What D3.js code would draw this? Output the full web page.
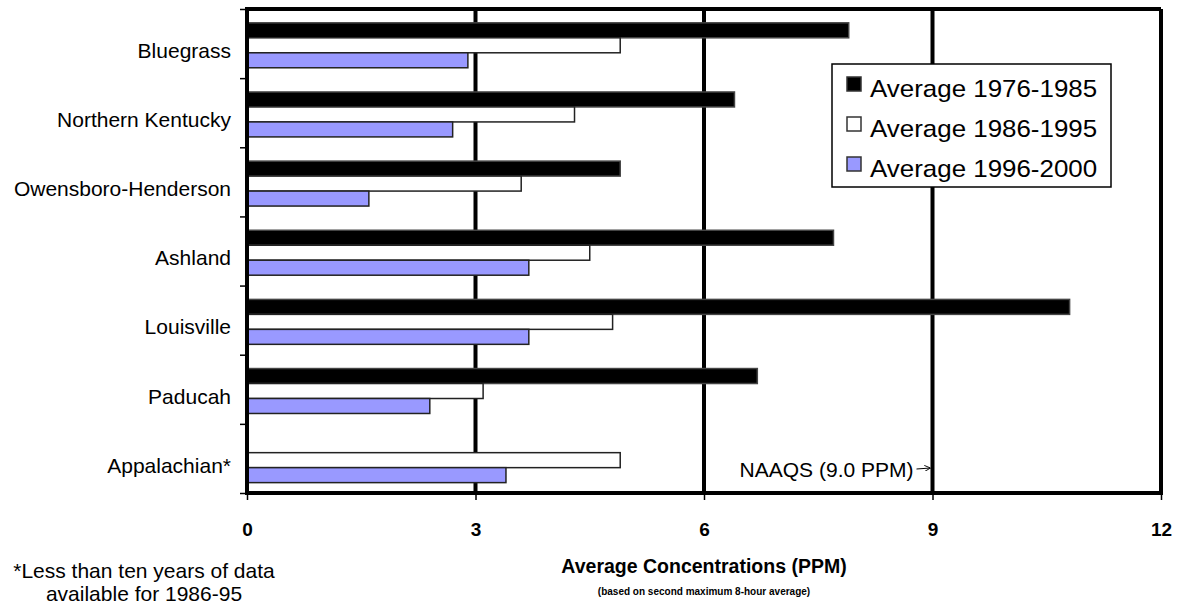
<!DOCTYPE html>
<html>
<head>
<meta charset="utf-8">
<script src="https://cdn.jsdelivr.net/npm/d3@7"></script>
<style>
  body { margin: 0; background: #fff; }
  text { font-family: "Liberation Sans", Arial, sans-serif; fill: #000; }
</style>
</head>
<body>
<div id="chart"></div>
<script>
// data
const categories = ['Bluegrass', 'Northern Kentucky', 'Owensboro-Henderson', 'Ashland', 'Louisville', 'Paducah', 'Appalachian*'];
const seriesNames = ['Average 1976-1985', 'Average 1986-1995', 'Average 1996-2000'];
const avg7685 = [7.9, 6.4, 4.9, 7.7, 10.8, 6.7, null];
const avg8695 = [4.9, 4.3, 3.6, 4.5, 4.8, 3.1, 4.9];
const avg9600 = [2.9, 2.7, 1.6, 3.7, 3.7, 2.4, 3.4];
const xTicks = [0, 3, 6, 9, 12];
const naaqs = 9;
const naaqsLabel = 'NAAQS (9.0 PPM)';
const xTitle = 'Average Concentrations (PPM)';
const xSubtitle = '(based on second maximum 8-hour average)';
const footnote = ['*Less than ten years of data', 'available for 1986-95'];

const seriesValues = [avg7685, avg8695, avg9600];
const seriesColors = ['#000000', '#ffffff', '#9999ff'];

const W = 1191, H = 604;
const margin = { top: 9, right: 30, bottom: 111, left: 247 };
const width = W - margin.left - margin.right;
const height = H - margin.top - margin.bottom;

const svg = d3.select('#chart').append('svg')
  .attr('width', W)
  .attr('height', H);

const g = svg.append('g')
  .attr('transform', `translate(${margin.left},${margin.top})`);

const x = d3.scaleLinear().domain([0, 12]).range([0, width]);
const y0 = d3.scaleBand().domain(categories).range([0, height]);
const bw = y0.bandwidth();
const y1 = d3.scaleBand().domain(seriesNames).range([bw * 0.2, bw * 0.85]);

// vertical gridlines (3, 6, 9, 12)
g.selectAll('.grid')
  .data(xTicks.filter(d => d > 0))
  .enter().append('line')
  .attr('x1', d => x(d)).attr('x2', d => x(d))
  .attr('y1', 0).attr('y2', height)
  .attr('stroke', '#000')
  .attr('stroke-width', 4);

// bars
const rows = [];
categories.forEach((c, i) => {
  seriesNames.forEach((s, j) => {
    if (seriesValues[j][i] != null) rows.push({ c, s, j, v: seriesValues[j][i] });
  });
});

g.selectAll('.bar')
  .data(rows)
  .enter().append('rect')
  .attr('x', x(0))
  .attr('y', d => y0(d.c) + y1(d.s))
  .attr('width', d => x(d.v) - x(0))
  .attr('height', y1.bandwidth())
  .attr('fill', d => seriesColors[d.j])
  .attr('stroke', d => d.j === 0 ? '#444' : '#222')
  .attr('stroke-width', 1.5);

// frame: top, left, bottom
g.append('line').attr('x1', 0).attr('x2', width).attr('y1', 0).attr('y2', 0)
  .attr('stroke', '#000').attr('stroke-width', 4);
g.append('line').attr('x1', 0).attr('x2', 0).attr('y1', -2).attr('y2', height + 2)
  .attr('stroke', '#000').attr('stroke-width', 4);
g.append('line').attr('x1', 0).attr('x2', width + 2).attr('y1', height).attr('y2', height)
  .attr('stroke', '#000').attr('stroke-width', 4);

// left ticks at band boundaries
const yIdx = d3.scaleLinear().domain([0, categories.length]).range([0, height]);
const yAxis = g.append('g')
  .call(d3.axisLeft(yIdx).ticks(categories.length).tickSize(7).tickFormat(''));
yAxis.select('.domain').remove();
yAxis.selectAll('line').attr('stroke', '#000').attr('stroke-width', 1.5);

// category labels
g.selectAll('.cat')
  .data(categories)
  .enter().append('text')
  .attr('x', -16)
  .attr('y', d => y0(d) + bw / 2 + 7)
  .attr('dy', '0.35em')
  .attr('text-anchor', 'end')
  .style('font-size', '21px')
  .text(d => d);

// x axis
const xAxis = g.append('g')
  .attr('transform', `translate(0,${height})`)
  .call(d3.axisBottom(x).tickValues(xTicks).tickSize(7).tickPadding(23).tickSizeOuter(0));
xAxis.select('.domain').remove();
xAxis.selectAll('line').attr('stroke', '#000').attr('stroke-width', 1.5);
xAxis.selectAll('text')
  .attr('fill', '#000')
  .style('font-family', '"Liberation Sans", Arial, sans-serif')
  .style('font-size', '19px')
  .style('font-weight', 'bold');

// axis titles
g.append('text')
  .attr('x', width / 2).attr('y', height + 80)
  .attr('text-anchor', 'middle')
  .style('font-size', '19.5px').style('font-weight', 'bold')
  .text(xTitle);
g.append('text')
  .attr('x', width / 2).attr('y', height + 102)
  .attr('text-anchor', 'middle')
  .style('font-size', '10px').style('font-weight', 'bold')
  .text(xSubtitle);

// footnote
svg.selectAll('.foot')
  .data(footnote)
  .enter().append('text')
  .attr('x', 144)
  .attr('y', (d, i) => 578 + i * 23)
  .attr('text-anchor', 'middle')
  .style('font-size', '21px')
  .text(d => d);

// NAAQS annotation
svg.append('defs').append('marker')
  .attr('id', 'arrow')
  .attr('viewBox', '0 0 10 10')
  .attr('refX', 10).attr('refY', 5)
  .attr('markerWidth', 6).attr('markerHeight', 6)
  .attr('orient', 'auto')
  .append('path')
  .attr('d', 'M0,0L10,5L0,10')
  .attr('fill', 'none')
  .attr('stroke', '#000')
  .attr('stroke-width', 1.5);

g.append('text')
  .attr('x', x(naaqs) - 19).attr('y', height - 16)
  .attr('text-anchor', 'end')
  .style('font-size', '21px')
  .text(naaqsLabel);
g.append('line')
  .attr('x1', x(naaqs) - 16).attr('x2', x(naaqs) - 2)
  .attr('y1', height - 24).attr('y2', height - 25)
  .attr('stroke', '#000').attr('stroke-width', 1)
  .attr('marker-end', 'url(#arrow)');

// legend
const legend = svg.append('g').attr('transform', 'translate(832,64)');
legend.append('rect')
  .attr('width', 279).attr('height', 123)
  .attr('fill', '#fff')
  .attr('stroke', '#000')
  .attr('stroke-width', 1.5);
const item = legend.selectAll('.item')
  .data(seriesNames)
  .enter().append('g')
  .attr('transform', (d, i) => `translate(0,${i * 40})`);
item.append('rect')
  .attr('x', 15).attr('y', 13)
  .attr('width', 14).attr('height', 14)
  .attr('fill', (d, i) => seriesColors[i])
  .attr('stroke', '#333')
  .attr('stroke-width', 1.5);
item.append('text')
  .attr('transform', 'translate(38,33) scale(1.08,1)')
  .style('font-size', '24px')
  .text(d => d);
</script>
</body>
</html>
